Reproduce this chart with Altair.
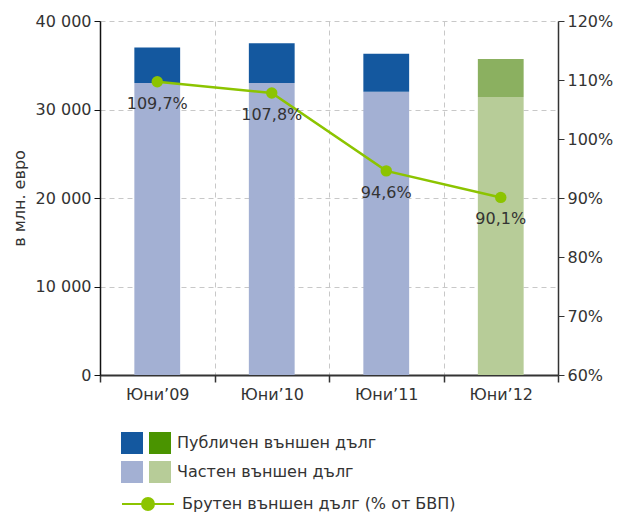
import altair as alt
import pandas as pd

dates = ["Юни’09", "Юни’10", "Юни’11", "Юни’12"]
private_debt = [33000, 33000, 32000, 31400]
public_debt = [4000, 4500, 4300, 4300]
gross_pct = [109.7, 107.8, 94.6, 90.1]

series_public = "Публичен външен дълг"
series_private = "Частен външен дълг"
series_line = "Брутен външен дълг (% от БВП)"

left_ticks = [0, 10000, 20000, 30000, 40000]
right_ticks = [60, 70, 80, 90, 100, 110, 120]

blue_dark, blue_light = "#14589f", "#a3b0d3"
green_dark_bar, green_light = "#8bb060", "#b7cc98"
green_dark_legend = "#4a9400"
line_green = "#8cc400"
grid_col = "#c8c8c8"
txt = "#333333"
FONT = "DejaVu Sans"

rows = []
for i, d in enumerate(dates):
    pal = "g" if i == len(dates) - 1 else "b"
    rows.append({"date": d, "series": series_private, "value": private_debt[i], "key": "priv_" + pal, "ord": 0})
    rows.append({"date": d, "series": series_public, "value": public_debt[i], "key": "pub_" + pal, "ord": 1})
bar_df = pd.DataFrame(rows)
line_df = pd.DataFrame({"date": dates, "pct": gross_pct, "name": series_line})
legend_df = pd.DataFrame({"s": [series_public, series_private]})

x_enc = alt.X(
    "date:N", sort=dates, title=None,
    scale=alt.Scale(paddingInner=0, paddingOuter=0),
    axis=alt.Axis(
        tickBand="extent", labelAngle=0, grid=True, gridDash=[5, 4], gridColor=grid_col,
        domainColor=txt, domainWidth=2, tickColor=txt, tickSize=7, tickWidth=1.5,
        labelPadding=4, labelFontSize=16, labelColor=txt, labelFont=FONT,
    ),
)

y_left = alt.Y(
    "value:Q", stack="zero", scale=alt.Scale(domain=[0, 40000]),
    axis=alt.Axis(
        values=left_ticks, labelExpr="replace(format(datum.value, ','), ',', ' ')",
        title="в млн. евро", titleFontSize=16, titleFontWeight="normal", titleColor=txt,
        titleFont=FONT, grid=True, gridDash=[5, 4], gridColor=grid_col,
        domainColor="#111111", domainWidth=1.5, tickColor="#111111", tickSize=6,
        labelPadding=3, labelFontSize=16, labelColor=txt, labelFont=FONT, titlePadding=8,
    ),
)

bars = alt.Chart(bar_df).mark_bar(width=alt.RelativeBandSize(0.4)).encode(
    x=x_enc,
    y=y_left,
    color=alt.Color(
        "key:N",
        scale=alt.Scale(domain=["pub_b", "priv_b", "pub_g", "priv_g"],
                        range=[blue_dark, blue_light, green_dark_bar, green_light]),
        legend=None,
    ),
    order=alt.Order("ord:Q"),
)

leg_common = dict(
    title=None, orient="none", symbolType="square", symbolSize=484,
    symbolStrokeWidth=0, rowPadding=7, labelFontSize=16, labelColor=txt,
    labelFont=FONT, padding=0, labelLimit=0,
)

leg_blue = alt.Chart(legend_df).mark_square(opacity=1).encode(
    color=alt.Color(
        "s:N",
        scale=alt.Scale(domain=[series_public, series_private], range=[blue_dark, blue_light]),
        legend=alt.Legend(legendX=21, legendY=411, labelExpr="''", labelOffset=0, **leg_common),
    )
).transform_filter("false")

leg_green = alt.Chart(legend_df).mark_square(opacity=1).encode(
    color=alt.Color(
        "s:N",
        scale=alt.Scale(domain=[series_public, series_private], range=[green_dark_legend, green_light]),
        legend=alt.Legend(legendX=49, legendY=411, labelOffset=6, **leg_common),
    )
).transform_filter("false")

bar_group = alt.layer(bars, leg_blue, leg_green).resolve_scale(color="independent")

y_right = alt.Y(
    "pct:Q", scale=alt.Scale(domain=[60, 120]),
    axis=alt.Axis(
        orient="right", values=right_ticks, labelExpr="datum.value + '%'", title=None,
        grid=False, domainColor=txt, domainWidth=1.5, tickColor=txt, tickSize=6,
        labelPadding=3, labelFontSize=16, labelColor=txt, labelFont=FONT,
    ),
)

line_symbol = "M-1,0L1,0M0.23,0A0.23,0.23,0,1,1,-0.23,0A0.23,0.23,0,1,1,0.23,0Z"

line = alt.Chart(line_df).mark_line(strokeWidth=2.5).encode(
    x=x_enc,
    y=y_right,
    color=alt.Color(
        "name:N", scale=alt.Scale(domain=[series_line], range=[line_green]),
        legend=alt.Legend(
            title=None, orient="none", legendX=21, legendY=456, symbolType=line_symbol,
            symbolSize=2704, symbolStrokeWidth=2, symbolFillColor=line_green,
            symbolStrokeColor=line_green, labelOffset=7, labelFontSize=16,
            labelColor=txt, labelFont=FONT, padding=0, labelLimit=0,
        ),
    ),
)

points = alt.Chart(line_df).mark_circle(size=130, color=line_green, opacity=1).encode(
    x=x_enc, y=y_right
)

labels = alt.Chart(line_df).transform_calculate(
    label="replace(format(datum.pct, '.1f'), '.', ',') + '%'"
).mark_text(dy=22, fontSize=16, color=txt, font=FONT).encode(
    x=x_enc, y=y_right, text="label:N"
)

line_group = alt.layer(line, points, labels)

chart = alt.layer(bar_group, line_group).resolve_scale(
    y="independent", color="independent"
).properties(
    width=458, height=354,
    autosize=alt.AutoSizeParams(type="none"),
    padding={"left": 100, "top": 21, "right": 59, "bottom": 139},
).configure_view(stroke=None)

chart.save("out.html", embed_options={"renderer": "svg", "actions": False})
